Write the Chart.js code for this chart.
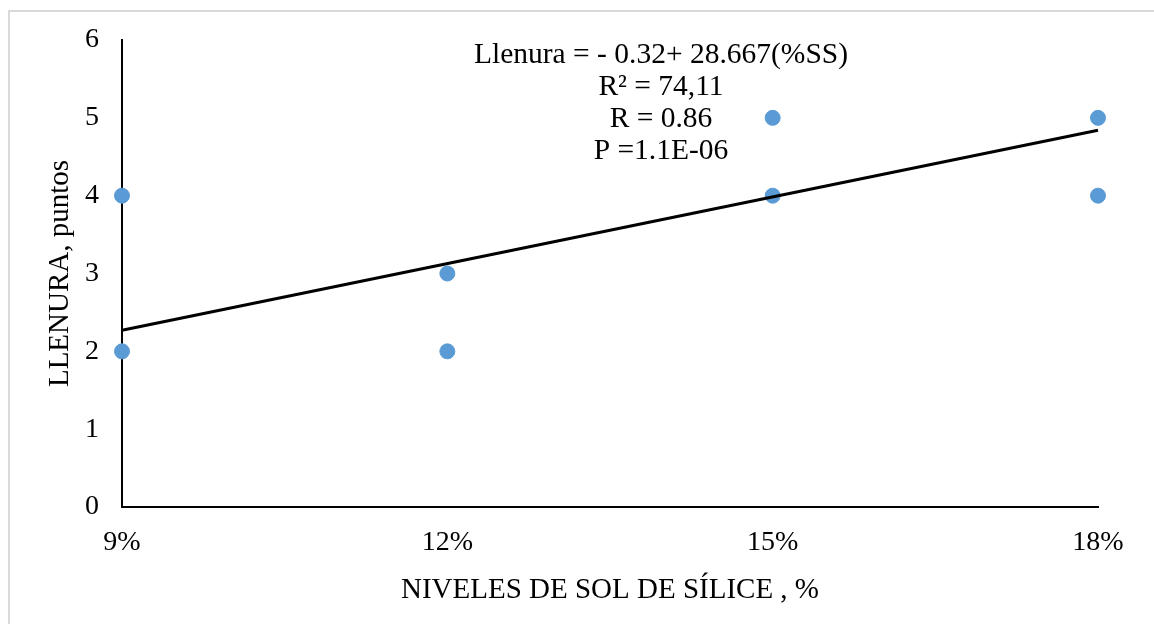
<!DOCTYPE html>
<html>
<head>
<meta charset="utf-8">
<script src="https://cdn.jsdelivr.net/npm/chart.js@4"></script>
<style>
  html, body { margin:0; padding:0; background:#fff; }
  #wrap { position:relative; width:1154px; height:624px; overflow:hidden; }
  #frame { position:absolute; left:8px; top:10px; width:1200px; height:700px; border:2px solid #d9d9d9; box-sizing:border-box; }
  #c { position:absolute; left:0; top:0; }
</style>
</head>
<body>
<div id="wrap">
  <div id="frame"></div>
  <canvas id="c" width="1154" height="624"></canvas>
</div>
<script>
// observed points (silica sol level %, score)
const niveles = [9, 9, 12, 12, 15, 15, 18, 18];
const llenura = [4, 2, 3, 2, 5, 4, 5, 4];
// trend line ends
const trendX = [9, 18];
const trendY = [2.27, 4.84];
const xTicks = [9, 12, 15, 18];
const notas = ["Llenura = - 0.32+ 28.667(%SS)", "R\u00b2 = 74,11", "R = 0.86", "P =1.1E-06"];

const serif = "'Liberation Serif', 'Times New Roman', serif";

const notesPlugin = {
  id: "notes",
  afterDraw(chart){
    const ctx = chart.ctx;
    ctx.save();
    ctx.font = "29.5px " + serif;
    ctx.fillStyle = "#000";
    ctx.textAlign = "center";
    ctx.textBaseline = "middle";
    notas.forEach((t, i) => ctx.fillText(t, 661, 55 + i * 32));
    ctx.restore();
  }
};

new Chart(document.getElementById("c").getContext("2d"), {
  type: "scatter",
  data: {
    datasets: [
      { label: "Tendencia", data: trendX.map((x, i) => ({ x, y: trendY[i] })),
        showLine: true, borderColor: "#000", borderWidth: 3, pointRadius: 0, order: 0, clip: false },
      { label: "Llenura", data: niveles.map((x, i) => ({ x, y: llenura[i] })),
        backgroundColor: "#5b9bd5", borderColor: "#5b9bd5", pointRadius: 7.5, order: 1, clip: false }
    ]
  },
  options: {
    responsive: false, animation: false,
    layout: { padding: { top: 40, right: 56, bottom: 0, left: 0 } },
    plugins: { legend: { display: false }, tooltip: { enabled: false } },
    scales: {
      x: {
        type: "linear", min: 9, max: 18,
        afterBuildTicks: s => { s.ticks = xTicks.map(v => ({ value: v })); },
        afterFit: s => { s.height = 117; },
        grid: { display: false, drawTicks: false },
        border: { color: "#000", width: 2 },
        ticks: { padding: 19, color: "#000", font: { family: serif, size: 28 }, callback: v => v + "%" },
        title: { display: true, text: "NIVELES DE SOL DE SÍLICE , %", color: "#000",
                 font: { family: serif, size: 29 }, padding: { top: 0, bottom: 16 } }
      },
      y: {
        min: 0, max: 6,
        afterFit: s => { s.width = 122; },
        grid: { display: false, drawTicks: false },
        border: { color: "#000", width: 2 },
        ticks: { stepSize: 1, padding: 23, color: "#000", font: { family: serif, size: 28 } },
        title: { display: true, text: "LLENURA, puntos", color: "#000",
                 font: { family: serif, size: 29 }, padding: { top: 43, bottom: 0 } }
      }
    }
  },
  plugins: [notesPlugin]
});
</script>
</body>
</html>
